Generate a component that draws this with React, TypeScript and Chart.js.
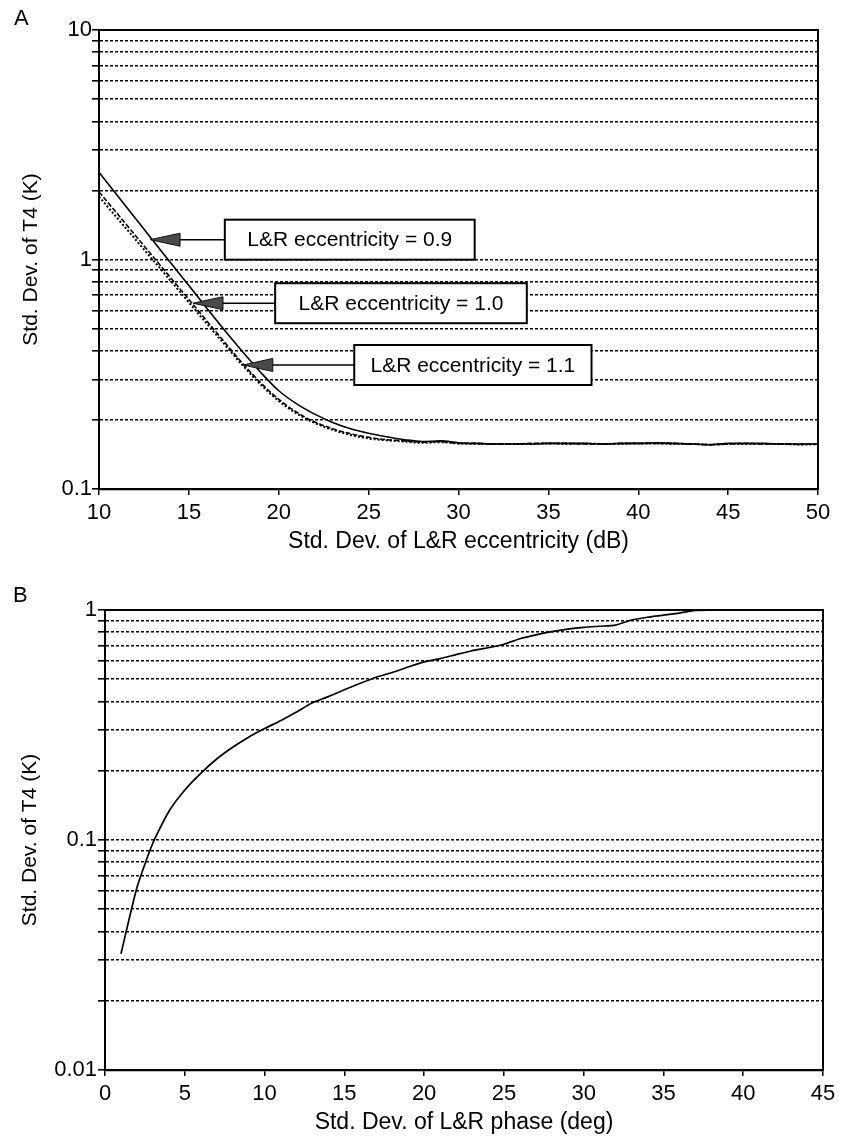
import React, { useEffect, useRef } from 'react';
import { Chart, registerables } from 'chart.js';

Chart.register(...registerables);

const FONT = '"Liberation Sans", Arial, Helvetica, sans-serif';

// ---------- Panel A data ----------
const eccX = [10, 11, 12, 13, 14, 15, 16, 17, 18, 19, 20, 21, 22, 23, 24, 25, 26, 27, 28, 29, 30,
  31, 32, 33, 34, 35, 36, 37, 38, 39, 40, 41, 42, 43, 44, 45, 46, 47, 48, 49, 50];
const ecc09 = [2.4, 1.91, 1.52, 1.21, 0.965, 0.77, 0.613, 0.49, 0.395, 0.322, 0.268, 0.235, 0.212, 0.195, 0.183, 0.175, 0.169, 0.164, 0.161, 0.162, 0.159,
  0.158, 0.157, 0.157, 0.157, 0.158, 0.158, 0.158, 0.157, 0.158, 0.158, 0.159, 0.158, 0.157, 0.156, 0.158, 0.158, 0.158, 0.157, 0.157, 0.157];
const ecc10 = [1.97, 1.59, 1.28, 1.03, 0.83, 0.67, 0.54, 0.435, 0.352, 0.29, 0.246, 0.216, 0.196, 0.183, 0.174, 0.168, 0.164, 0.162, 0.16, 0.161, 0.158,
  0.158, 0.157, 0.157, 0.158, 0.158, 0.158, 0.157, 0.157, 0.158, 0.158, 0.158, 0.158, 0.157, 0.156, 0.157, 0.158, 0.157, 0.157, 0.157, 0.157];
const ecc11 = [1.88, 1.52, 1.23, 0.995, 0.805, 0.65, 0.525, 0.425, 0.345, 0.285, 0.242, 0.213, 0.194, 0.181, 0.172, 0.166, 0.163, 0.161, 0.159, 0.16, 0.158,
  0.157, 0.157, 0.157, 0.157, 0.158, 0.157, 0.158, 0.157, 0.157, 0.158, 0.158, 0.157, 0.157, 0.156, 0.157, 0.157, 0.157, 0.157, 0.156, 0.157];
const xTickStep = 5;
const eccYTicks = [0.1, 0.2, 0.3, 0.4, 0.5, 0.6, 0.7, 0.8, 0.9, 1, 2, 3, 4, 5, 6, 7, 8, 9, 10];
const eccYLabels = [0.1, 1, 10];

// annotation boxes of panel A (box edges / arrow tip in data units)
const eccNotes = [
  { text: 'L&R eccentricity = 0.9', left: 17.0, right: 30.9, yValue: 1.22, tipX: 12.84 },
  { text: 'L&R eccentricity = 1.0', left: 19.8, right: 33.8, yValue: 0.645, tipX: 15.23 },
  { text: 'L&R eccentricity = 1.1', left: 24.2, right: 37.4, yValue: 0.347, tipX: 18.0 },
];

// ---------- Panel B data ----------
const phaseX = [1, 2, 3, 4, 5, 6, 7, 8, 9, 10, 11, 12, 13, 14, 15, 16, 17, 18, 19, 20,
  21, 22, 23, 24, 25, 26, 27, 28, 29, 30, 31, 32, 33, 34, 35, 36, 37, 38];
const phaseY = [0.032, 0.062, 0.097, 0.133, 0.165, 0.195, 0.225, 0.253, 0.28, 0.305, 0.33, 0.36, 0.395, 0.42, 0.45, 0.48, 0.51, 0.535, 0.565, 0.595,
  0.615, 0.64, 0.665, 0.685, 0.71, 0.75, 0.78, 0.805, 0.825, 0.84, 0.85, 0.86, 0.905, 0.93, 0.95, 0.97, 0.995, 1.0];
const phaseYTicks = [0.01, 0.02, 0.03, 0.04, 0.05, 0.06, 0.07, 0.08, 0.09, 0.1, 0.2, 0.3, 0.4, 0.5, 0.6, 0.7, 0.8, 0.9, 1];
const phaseYLabels = [0.01, 0.1, 1];

const panelLabelPlugin = (label: string, x: number, y: number) => ({
  id: 'panelLabel' + label,
  afterDraw(chart: any) {
    const ctx = chart.ctx;
    const a = chart.chartArea;
    ctx.save();
    ctx.strokeStyle = '#000';
    ctx.lineWidth = 2;
    ctx.setLineDash([]);
    ctx.strokeRect(a.left, a.top, a.right - a.left, a.bottom - a.top);
    ctx.fillStyle = '#000';
    ctx.font = '22px ' + FONT;
    ctx.textAlign = 'left';
    ctx.textBaseline = 'alphabetic';
    ctx.fillText(label, x, y);
    ctx.restore();
  },
});

const notesPlugin = {
  id: 'eccNotes',
  afterDatasetsDraw(chart: any) {
    const ctx = chart.ctx;
    const xs = chart.scales.x;
    const ys = chart.scales.y;
    ctx.save();
    ctx.setLineDash([]);
    eccNotes.forEach((n) => {
      const bl = xs.getPixelForValue(n.left);
      const br = xs.getPixelForValue(n.right);
      const cy = ys.getPixelForValue(n.yValue);
      const tx = xs.getPixelForValue(n.tipX);
      const h = 40;
      ctx.strokeStyle = '#000';
      ctx.lineWidth = 1.6;
      ctx.beginPath();
      ctx.moveTo(tx + 29, cy);
      ctx.lineTo(bl, cy);
      ctx.stroke();
      ctx.fillStyle = '#4a4a4a';
      ctx.beginPath();
      ctx.moveTo(tx, cy);
      ctx.lineTo(tx + 30, cy - 6.5);
      ctx.lineTo(tx + 30, cy + 6.5);
      ctx.closePath();
      ctx.fill();
      ctx.strokeStyle = '#111';
      ctx.lineWidth = 1;
      ctx.stroke();
      ctx.fillStyle = '#fff';
      ctx.fillRect(bl, cy - h / 2, br - bl, h);
      ctx.strokeStyle = '#000';
      ctx.lineWidth = 2;
      ctx.strokeRect(bl, cy - h / 2, br - bl, h);
      ctx.fillStyle = '#000';
      ctx.font = '21px ' + FONT;
      ctx.textAlign = 'center';
      ctx.textBaseline = 'middle';
      ctx.fillText(n.text, (bl + br) / 2, cy + 1);
    });
    ctx.restore();
  },
};

function makeOptions(p: {
  xMin: number; xMax: number; xTitle: string; yMin: number; yMax: number;
  yTicks: number[]; yLabels: number[]; yWidth: number; pad: any; yTickPad: number; yTitlePad: number;
}) {
  const tickFont = { family: FONT, size: 22 };
  const xTitleFont = { family: FONT, size: 23 };
  const yTitleFont = { family: FONT, size: 21 };
  return {
    animation: false,
    responsive: false,
    maintainAspectRatio: false,
    devicePixelRatio: 1,
    layout: { padding: p.pad },
    plugins: { legend: { display: false }, tooltip: { enabled: false } },
    elements: { point: { radius: 0 } },
    scales: {
      x: {
        type: 'linear',
        min: p.xMin,
        max: p.xMax,
        ticks: { stepSize: xTickStep, color: '#000', font: tickFont, padding: 5, maxRotation: 0, autoSkip: false },
        grid: { drawOnChartArea: false, drawTicks: true, tickLength: 6, color: '#000', lineWidth: 1.5 },
        border: { color: '#000', width: 2.2 },
        title: { display: true, text: p.xTitle, color: '#000', font: xTitleFont, padding: { top: 0, bottom: 0 } },
        afterFit: (s: any) => { s.height = 66; },
      },
      y: {
        type: 'logarithmic',
        min: p.yMin,
        max: p.yMax,
        afterBuildTicks: (s: any) => { s.ticks = p.yTicks.map((v) => ({ value: v })); },
        ticks: {
          autoSkip: false,
          color: '#000',
          font: tickFont,
          padding: p.yTickPad,
          callback: (v: any) => (p.yLabels.includes(v) ? String(v) : ''),
        },
        grid: { color: '#000', lineWidth: 1.6, tickLength: 7, drawTicks: true, tickBorderDash: [], tickWidth: 1.6 },
        border: { dash: [3, 2], color: '#000', width: 2 },
        title: { display: true, text: 'Std. Dev. of T4 (K)', color: '#000', font: yTitleFont, padding: { top: p.yTitlePad, bottom: 0 } },
        afterFit: (s: any) => { s.width = p.yWidth; },
      },
    },
  } as any;
}

export default function App() {
  const refA = useRef<HTMLCanvasElement | null>(null);
  const refB = useRef<HTMLCanvasElement | null>(null);

  useEffect(() => {
    if (!refA.current || !refB.current) return;
    const chartA = new Chart(refA.current, {
      type: 'line',
      data: {
        labels: eccX,
        datasets: [
          { label: 'L&R eccentricity = 0.9', data: eccX.map((x, i) => ({ x, y: ecc09[i] })), borderColor: '#000', borderWidth: 1.6, cubicInterpolationMode: 'monotone', fill: false },
          { label: 'L&R eccentricity = 1.0', data: eccX.map((x, i) => ({ x, y: ecc10[i] })), borderColor: '#000', borderWidth: 1.6, borderDash: [5, 2], cubicInterpolationMode: 'monotone', fill: false },
          { label: 'L&R eccentricity = 1.1', data: eccX.map((x, i) => ({ x, y: ecc11[i] })), borderColor: '#000', borderWidth: 2, borderDash: [2, 2], cubicInterpolationMode: 'monotone', fill: false },
        ],
      } as any,
      options: makeOptions({
        xMin: 10, xMax: 50, xTitle: 'Std. Dev. of L&R eccentricity (dB)',
        yMin: 0.1, yMax: 10, yTicks: eccYTicks, yLabels: eccYLabels, yWidth: 99,
        pad: { top: 30, right: 23, bottom: 5, left: 0 }, yTickPad: 0, yTitlePad: 19,
      }),
      plugins: [notesPlugin, panelLabelPlugin('A', 14, 25)],
    });
    const chartB = new Chart(refB.current, {
      type: 'line',
      data: {
        labels: phaseX,
        datasets: [
          { label: 'phase', data: phaseX.map((x, i) => ({ x, y: phaseY[i] })), borderColor: '#000', borderWidth: 1.7, tension: 0.2, fill: false },
        ],
      } as any,
      options: makeOptions({
        xMin: 0, xMax: 45, xTitle: 'Std. Dev. of L&R phase (deg)',
        yMin: 0.01, yMax: 1, yTicks: phaseYTicks, yLabels: phaseYLabels, yWidth: 105,
        pad: { top: 50, right: 18, bottom: 2, left: 0 }, yTickPad: 1, yTitlePad: 18,
      }),
      plugins: [panelLabelPlugin('B', 13, 42)],
    });
    return () => {
      chartA.destroy();
      chartB.destroy();
    };
  }, []);

  return (
    <div style={{ position: 'absolute', left: 0, top: 0, width: 841, height: 1138, background: '#fff' }}>
      <div style={{ position: 'absolute', left: 0, top: 0, width: 841, height: 560 }}>
        <canvas ref={refA} width={841} height={560} style={{ width: 841, height: 560, display: 'block' }} />
      </div>
      <div style={{ position: 'absolute', left: 0, top: 560, width: 841, height: 578 }}>
        <canvas ref={refB} width={841} height={578} style={{ width: 841, height: 578, display: 'block' }} />
      </div>
    </div>
  );
}
